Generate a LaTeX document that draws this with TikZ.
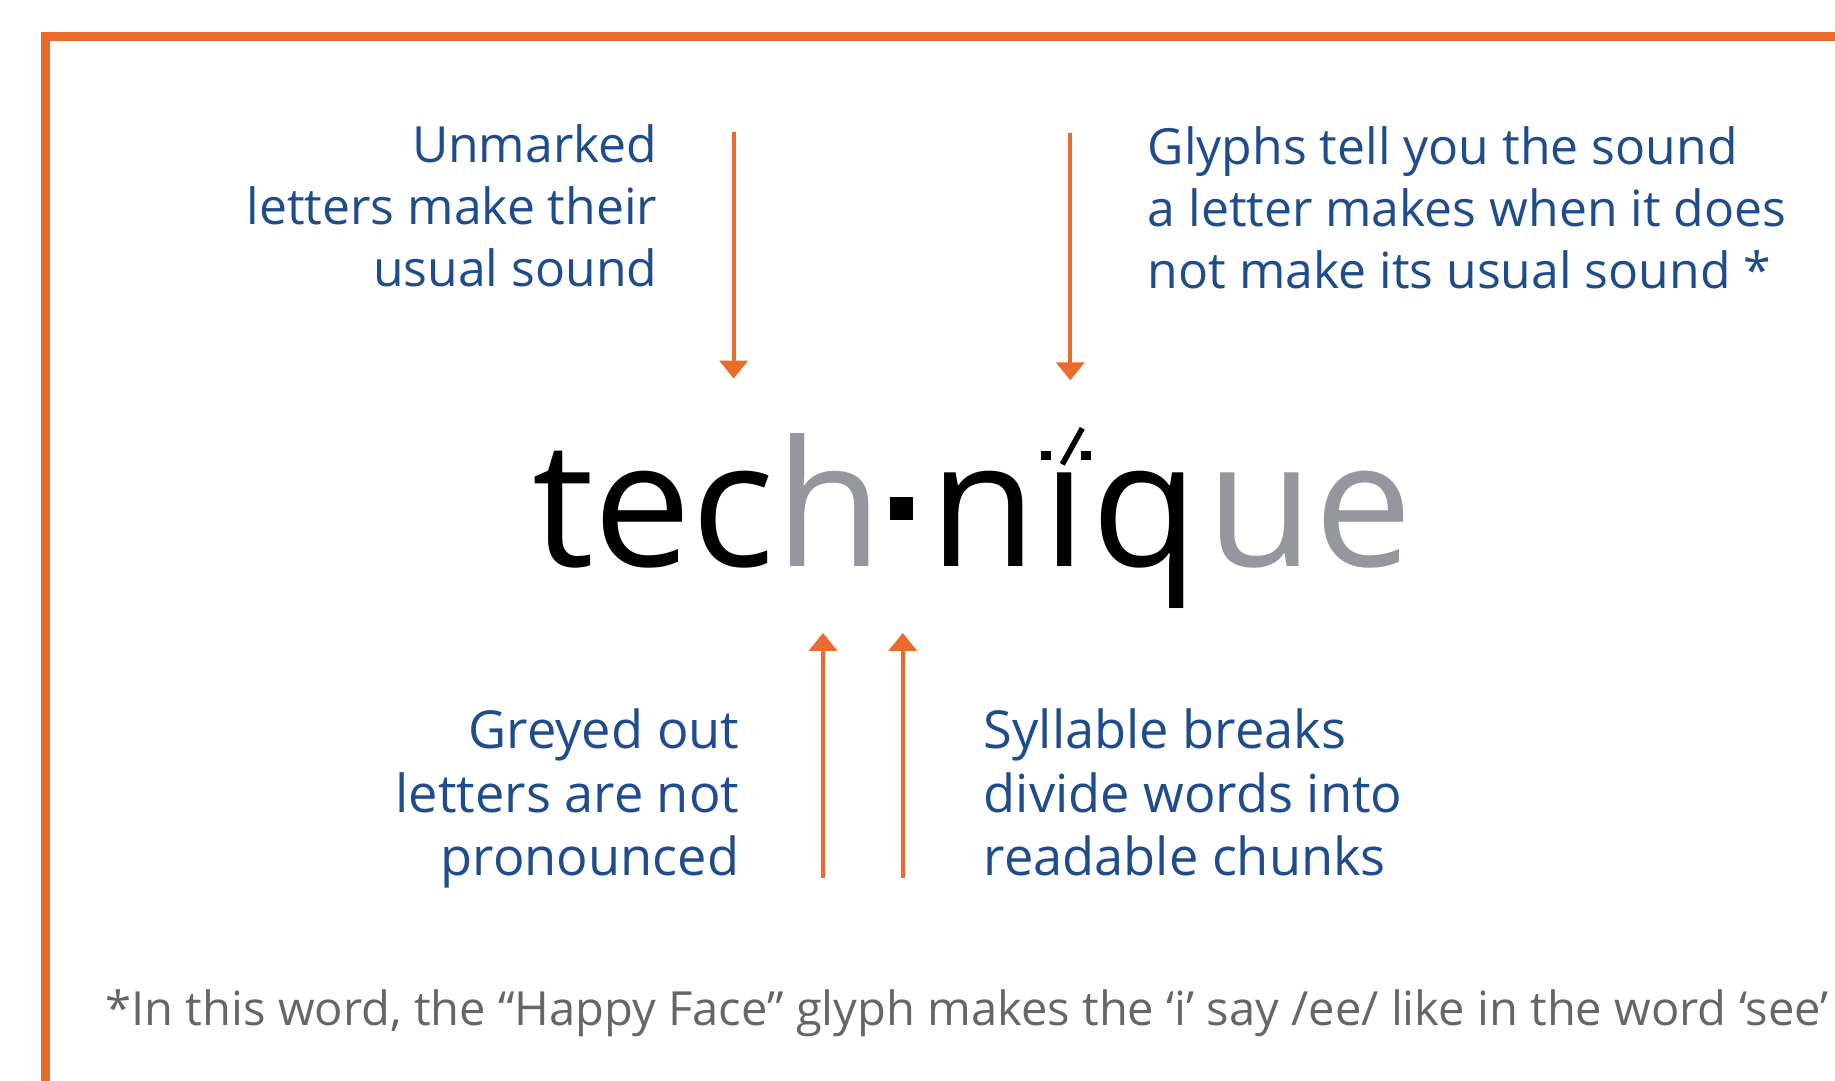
\documentclass[tikz,border=0pt]{standalone}
\usepackage{fontspec}
\setmainfont{Open Sans}
\usepackage{tikz}
\usetikzlibrary{arrows.meta, positioning}

\definecolor{frameorange}{RGB}{234,108,45}
\definecolor{noteblue}{RGB}{30,76,140}
\definecolor{footgrey}{RGB}{102,102,102}
\definecolor{mutegrey}{RGB}{150,150,158}

\begin{document}
\begin{tikzpicture}[
    note/.style={text=noteblue, font=\fontsize{14.2}{17.6}\selectfont, inner sep=0pt},
    low note/.style={note, font=\fontsize{14.9}{18.1}\selectfont},
    letter/.style={font=\fontsize{49.8}{50}\selectfont, inner sep=0pt, outer sep=0pt},
    pointer/.style={-{Triangle[width=0.28cm, length=0.18cm]}, draw=frameorange, line width=0.04cm}
]
    \useasboundingbox (0,0) rectangle (18.35,10.81);
    \draw[frameorange, line width=0.09cm] (0.455,0) -- (0.455,10.445) -- (18.35,10.445);

    % the word
    \node[letter, anchor=base west] (te) at (5.32,5.14) {te};
    \node[letter, base right=0pt of te] (c) {c};
    \node[letter, text=mutegrey, base right=0pt of c] (h) {h};
    \node[letter, base right=0pt of h] (brk) {\hspace{0.07cm}\rule[0.465cm]{0.23cm}{0.23cm}\hspace{0.07cm}};
    \node[letter, base right=0.17cm of brk] (n) {n};
    \node[letter, base right=0.05cm of n] (i) {\i};
    \node[letter, base right=0.05cm of i] (q) {q};
    \node[letter, text=mutegrey, base right=0.08cm of q] (ue) {ue};

    % happy face over the i
    \fill ([shift={(-0.23,0.13)}]i.north) rectangle ++(0.10,0.09);
    \fill ([shift={(0.17,0.13)}]i.north) rectangle ++(0.10,0.09);
    \draw[line width=0.055cm] ([shift={(-0.02,0.09)}]i.north) -- ([shift={(0.18,0.45)}]i.north);

    % notes
    \node[note, align=right, anchor=north east] (unmarked) at (6.58,9.57) {Unmarked\\letters make their\\usual sound};
    \node[note, align=left, anchor=north west] (glyphs) at (11.47,9.55) {Glyphs tell you the sound\\a letter makes when it does\\not make its usual sound *};
    \node[low note, align=right, anchor=north east] (greyed) at (7.40,3.73) {Greyed out\\letters are not\\pronounced};
    \node[low note, align=left, anchor=north west] (breaks) at (9.83,3.73) {Syllable breaks\\divide words into\\readable chunks};

    % arrows
    \coordinate[above=0.93cm of c] (cTip);
    \coordinate[above=2.47cm of cTip] (cTail);
    \coordinate[above=0.93cm of i, xshift=0.06cm] (iTip);
    \coordinate[above=2.47cm of iTip] (iTail);
    \coordinate[below=0.66cm of h, xshift=-0.06cm] (hTip);
    \coordinate[below=2.45cm of hTip] (hTail);
    \coordinate[below=0.66cm of brk, xshift=0.05cm] (brkTip);
    \coordinate[below=2.45cm of brkTip] (brkTail);
    \draw[pointer] (cTail) -- (cTip);
    \draw[pointer] (iTail) -- (iTip);
    \draw[pointer] (hTail) -- (hTip);
    \draw[pointer] (brkTail) -- (brkTip);

    \node[text=footgrey, font=\fontsize{13.4}{16}\selectfont, inner sep=0pt, anchor=base west] (foot) at (1.05,0.55)
        {*In this word, the “Happy Face” glyph makes the ‘i’ say /ee/ like in the word ‘see’};
\end{tikzpicture}
\end{document}
